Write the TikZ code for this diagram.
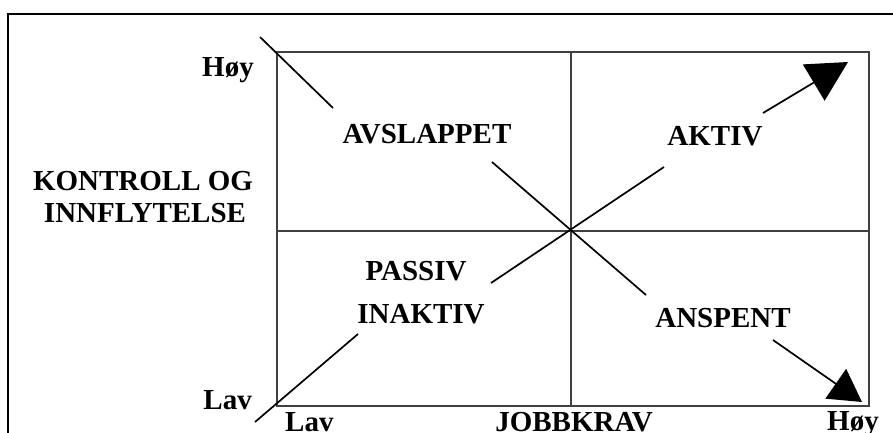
\documentclass[tikz,border=0pt]{standalone}
\usepackage{fontspec}
\setmainfont{Liberation Serif}
\usetikzlibrary{arrows.meta}
\begin{document}
\begin{tikzpicture}[x=1pt,y=-1pt,
  lbl/.style={font=\fontsize{29}{33}\selectfont\bfseries, inner sep=0pt, anchor=base},
  grid/.style={draw=black!75, line width=1.2pt},
  diag/.style={draw=black, line width=1.7pt}
]
\useasboundingbox (0,0) rectangle (893,432);
\clip (0,0) rectangle (893,432);
% outer frame
\draw[line width=2.6pt] (8,14) rectangle (905,445);
% grid
\coordinate (TL) at (277,52);
\coordinate (BR) at (869,406);
\coordinate (MT) at (571,52);
\coordinate (MB) at (571,406);
\coordinate (ML) at (277,231);
\coordinate (MR) at (869,231);
\draw[grid] (TL) rectangle (BR);
\draw[grid] (MT) -- (MB);
\draw[grid] (ML) -- (MR);
% labels
\node[lbl, anchor=base east] (hoyL) at (254,76) {Høy};
\node[lbl] (kontroll) at (143,190) {KONTROLL OG};
\node[lbl] (innfly) at (145,222) {INNFLYTELSE};
\node[lbl] (avsl) at (427,143) {AVSLAPPET};
\node[lbl] (aktiv) at (715,145) {AKTIV};
\node[lbl] (passiv) at (416,280) {PASSIV};
\node[lbl] (inaktiv) at (421,323) {INAKTIV};
\node[lbl] (anspent) at (723,327) {ANSPENT};
\node[lbl, anchor=base east] (lavL) at (252,409) {Lav};
\node[lbl, anchor=base west] (lavB) at (285,431.5) {Lav};
\node[lbl] (jobb) at (574,431.5) {JOBBKRAV};
\node[lbl, anchor=base west] (hoyB) at (827,430.5) {Høy};
% diagonal connectors
\coordinate (d1a) at (260,37);
\coordinate (d1b) at (333,108);
\coordinate (d2a) at (492,162);
\coordinate (d2b) at (646,295);
\coordinate (d3a) at (773,340);
\coordinate (d3b) at (862,402);
\coordinate (a1a) at (255,422);
\coordinate (a1b) at (358,334);
\coordinate (a2a) at (491,283);
\coordinate (a2b) at (664,167);
\coordinate (a3a) at (763,113);
\coordinate (a3b) at (848,62);
\draw[diag] (d1a) -- (d1b);
\draw[diag] (d2a) -- (d2b);
\draw[diag, -{Triangle[length=32pt, width=36pt]}] (d3a) -- (d3b);
\draw[diag] (a1a) -- (a1b);
\draw[diag] (a2a) -- (a2b);
\draw[diag, -{Triangle[length=40pt, width=42pt]}] (a3a) -- (a3b);
\end{tikzpicture}
\end{document}
